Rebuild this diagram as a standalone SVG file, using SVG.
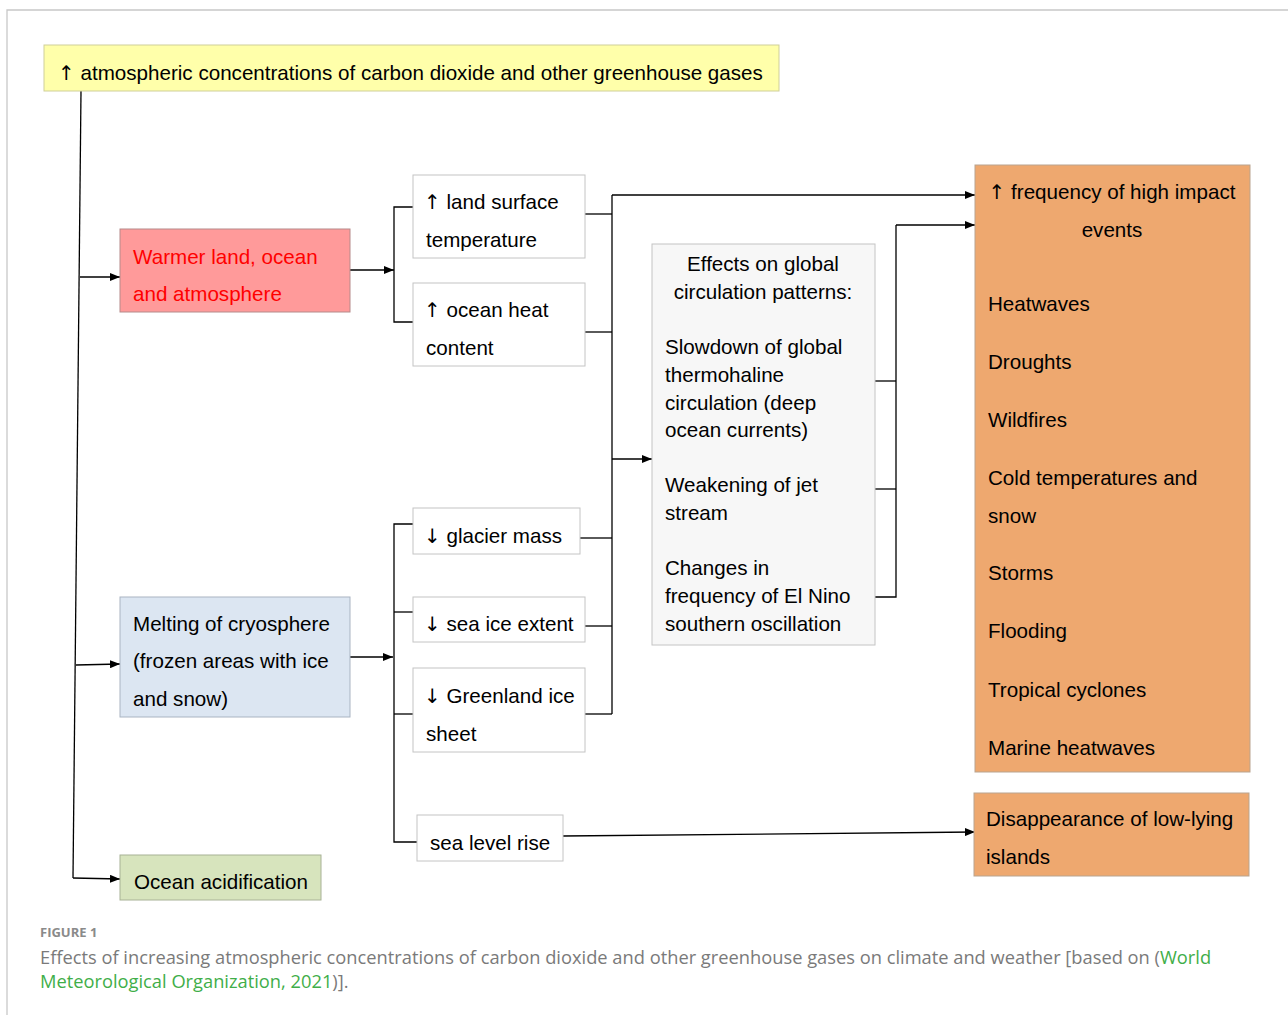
<svg xmlns="http://www.w3.org/2000/svg" width="1288" height="1015" viewBox="0 0 1288 1015">
<defs>
<marker id="ah" markerWidth="10" markerHeight="8" refX="10" refY="4" orient="auto" markerUnits="userSpaceOnUse">
<path d="M0,0 L10,4 L0,8 Z" fill="#000"/>
</marker>
<style>
.t{font-family:"Liberation Sans",Arial,sans-serif;font-size:20.6px;fill:#000}
.ar{font-family:"DejaVu Sans",sans-serif;font-size:20px}
.c{stroke:#000;stroke-width:1.3;fill:none}
.a{stroke:#000;stroke-width:1.3;fill:none;marker-end:url(#ah)}
.wb{fill:#fff;stroke:#c4c4c4;stroke-width:1}
.or{fill:#eea86f;stroke:#b9a48f;stroke-width:1}
.cap{font-family:"Open Sans","Liberation Sans",sans-serif;font-size:18.3px;fill:#7a7a7a}
</style>
</defs>
<rect width="1288" height="1015" fill="#fff"/>
<path d="M7,1015 V10 H1288" stroke="#c8c8c8" stroke-width="1.3" fill="none"/>

<g id="connectors">
<path class="c" d="M81,91 L73,878"/>
<path class="a" d="M80,277 H120"/>
<path class="a" d="M76,665 L120,664"/>
<path class="a" d="M73,878 L120,879"/>
<path class="a" d="M350,270 H394"/>
<path class="c" d="M413,207 H394 V322 H413"/>
<path class="c" d="M585,214 H612"/>
<path class="c" d="M585,332 H612"/>
<path class="c" d="M612,195 V714"/>
<path class="a" d="M612,195 H975"/>
<path class="a" d="M612,459 H652"/>
<path class="a" d="M350,657 H393"/>
<path class="c" d="M413,524 H394 V842 H417"/>
<path class="c" d="M394,612 H413"/>
<path class="c" d="M394,714 H413"/>
<path class="c" d="M580,538 H612"/>
<path class="c" d="M585,626 H612"/>
<path class="c" d="M585,714 H612"/>
<path class="a" d="M563,836 L975,832"/>
<path class="c" d="M875,381 H896"/>
<path class="c" d="M875,489 H896"/>
<path class="c" d="M875,597 H896 V225"/>
<path class="a" d="M896,225 H975"/>
</g>

<g id="top">
<rect x="44" y="45" width="735" height="46" fill="#ffffaa" stroke="#cfcf9a" stroke-width="1"/>
<text class="t" x="58" y="80"><tspan class="ar">↑</tspan> atmospheric concentrations of carbon dioxide and other greenhouse gases</text>
</g>

<g id="warmer">
<rect x="120" y="229" width="230" height="83" fill="#ff9a9a" stroke="#b58a8a" stroke-width="1"/>
<text class="t" x="133" y="264" style="fill:#ff0000">Warmer land, ocean</text>
<text class="t" x="133" y="301" style="fill:#ff0000">and atmosphere</text>
</g>

<g id="land">
<rect class="wb" x="413" y="175" width="172" height="83"/>
<text class="t" x="424" y="209"><tspan class="ar">↑</tspan> land surface</text>
<text class="t" x="426" y="247">temperature</text>
</g>

<g id="oceanheat">
<rect class="wb" x="413" y="283" width="172" height="83"/>
<text class="t" x="424" y="317"><tspan class="ar">↑</tspan> ocean heat</text>
<text class="t" x="426" y="355">content</text>
</g>

<g id="glacier">
<rect class="wb" x="413" y="508" width="167" height="46"/>
<text class="t" x="424" y="543"><tspan class="ar">↓</tspan> glacier mass</text>
</g>

<g id="seaice">
<rect class="wb" x="413" y="597" width="172" height="45"/>
<text class="t" x="424" y="631"><tspan class="ar">↓</tspan> sea ice extent</text>
</g>

<g id="greenland">
<rect class="wb" x="413" y="668" width="172" height="84"/>
<text class="t" x="424" y="703"><tspan class="ar">↓</tspan> Greenland ice</text>
<text class="t" x="426" y="741">sheet</text>
</g>

<g id="sealevel">
<rect class="wb" x="417" y="815" width="146" height="46"/>
<text class="t" x="430" y="850">sea level rise</text>
</g>

<g id="melting">
<rect x="120" y="597" width="230" height="120" fill="#dce6f2" stroke="#a9b4c2" stroke-width="1"/>
<text class="t" x="133" y="631">Melting of cryosphere</text>
<text class="t" x="133" y="668">(frozen areas with ice</text>
<text class="t" x="133" y="706">and snow)</text>
</g>

<g id="acid">
<rect x="120" y="855" width="201" height="45" fill="#d7e4bd" stroke="#a8b296" stroke-width="1"/>
<text class="t" x="134" y="889">Ocean acidification</text>
</g>

<g id="effects">
<rect x="652" y="244" width="223" height="401" fill="#f7f7f7" stroke="#c4c4c4" stroke-width="1"/>
<text class="t" x="763" y="271" text-anchor="middle">Effects on global</text>
<text class="t" x="763" y="299" text-anchor="middle">circulation patterns:</text>
<text class="t" x="665" y="354">Slowdown of global</text>
<text class="t" x="665" y="382">thermohaline</text>
<text class="t" x="665" y="410">circulation (deep</text>
<text class="t" x="665" y="437">ocean currents)</text>
<text class="t" x="665" y="492">Weakening of jet</text>
<text class="t" x="665" y="520">stream</text>
<text class="t" x="665" y="575">Changes in</text>
<text class="t" x="665" y="603">frequency of El Nino</text>
<text class="t" x="665" y="631">southern oscillation</text>
</g>

<g id="frequency">
<rect class="or" x="975" y="165" width="275" height="607"/>
<text class="t" x="1112" y="199" text-anchor="middle"><tspan class="ar">↑</tspan> frequency of high impact</text>
<text class="t" x="1112" y="237" text-anchor="middle">events</text>
<text class="t" x="988" y="311">Heatwaves</text>
<text class="t" x="988" y="369">Droughts</text>
<text class="t" x="988" y="427">Wildfires</text>
<text class="t" x="988" y="485">Cold temperatures and</text>
<text class="t" x="988" y="523">snow</text>
<text class="t" x="988" y="580">Storms</text>
<text class="t" x="988" y="638">Flooding</text>
<text class="t" x="988" y="697">Tropical cyclones</text>
<text class="t" x="988" y="755">Marine heatwaves</text>
</g>

<g id="islands">
<rect class="or" x="974" y="793" width="275" height="83"/>
<text class="t" x="986" y="826">Disappearance of low-lying</text>
<text class="t" x="986" y="864">islands</text>
</g>

<g id="caption">
<text x="40" y="937" font-family="'Open Sans','Liberation Sans',sans-serif" font-size="13" font-weight="bold" fill="#8a8a8a">FIGURE 1</text>
<text class="cap" x="40" y="964">Effects of increasing atmospheric concentrations of carbon dioxide and other greenhouse gases on climate and weather [based on (<tspan fill="#3fae49">World</tspan></text>
<text class="cap" x="40" y="988"><tspan fill="#3fae49">Meteorological Organization, 2021</tspan>)].</text>
</g>
</svg>
